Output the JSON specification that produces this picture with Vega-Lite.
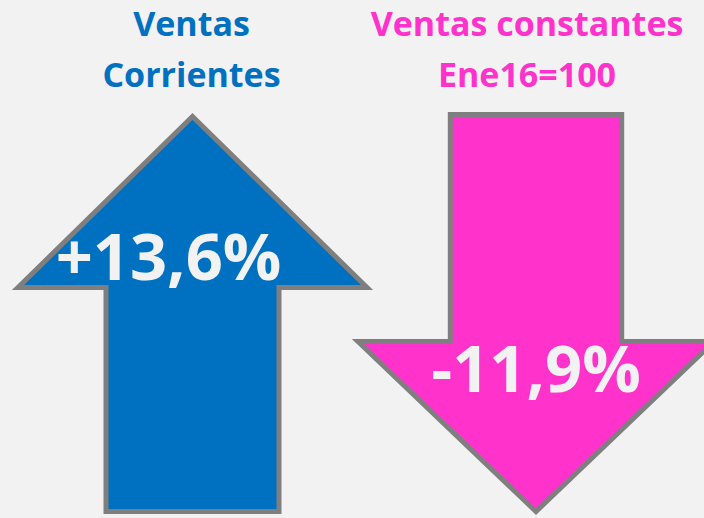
{
  "$schema": "https://vega.github.io/schema/vega-lite/v6.json",
  "width": 704,
  "height": 518,
  "autosize": {"type": "fit", "contains": "padding"},
  "padding": 0,
  "background": "#f2f2f2",
  "config": {
    "view": {"stroke": null},
    "text": {"font": "Open Sans", "fontWeight": "bold", "align": "center", "baseline": "alphabetic"}
  },
  "data": {
    "values": [
      {"serie": "Ventas Corrientes", "titulo": "Ventas\nCorrientes", "variacion": 13.6, "etiqueta": "+13,6%", "direccion": "sube"},
      {"serie": "Ventas constantes Ene16=100", "titulo": "Ventas constantes\nEne16=100", "variacion": -11.9, "etiqueta": "-11,9%", "direccion": "baja"}
    ]
  },
  "encoding": {
    "x": {
      "field": "serie",
      "type": "nominal",
      "sort": null,
      "scale": {"type": "point", "range": [192.5, 536], "padding": 0},
      "axis": null
    }
  },
  "layer": [
    {
      "mark": {"type": "point", "filled": true, "size": 40000, "stroke": "#7f7f7f", "strokeWidth": 5, "opacity": 1, "fillOpacity": 1, "strokeOpacity": 1, "strokeJoin": "miter"},
      "encoding": {
        "shape": {
          "field": "direccion",
          "type": "nominal",
          "scale": {
            "domain": ["sube", "baja"],
            "range": [
              "M 0 -1.39 L 1.745 0.32 L 0.865 0.32 L 0.865 2.56 L -0.865 2.56 L -0.865 0.32 L -1.745 0.32 Z",
              "M -0.857 -1.41 L 0.857 -1.41 L 0.857 0.86 L 1.78 0.86 L 0 2.56 L -1.78 0.86 L -0.857 0.86 Z"
            ]
          },
          "legend": null
        },
        "fill": {
          "field": "direccion",
          "type": "nominal",
          "scale": {"domain": ["sube", "baja"], "range": ["#0070c0", "#ff33cc"]},
          "legend": null
        }
      }
    },
    {
      "transform": [{"filter": "datum.direccion === 'sube'"}],
      "mark": {"type": "text", "fontSize": 65, "color": "#f2f2f2", "dx": -24, "dy": 24},
      "encoding": {"text": {"field": "etiqueta", "type": "nominal"}}
    },
    {
      "transform": [{"filter": "datum.direccion === 'baja'"}],
      "mark": {"type": "text", "fontSize": 65, "color": "#f2f2f2", "dx": 0, "dy": 136},
      "encoding": {"text": {"field": "etiqueta", "type": "nominal"}}
    },
    {
      "transform": [{"filter": "datum.direccion === 'sube'"}],
      "mark": {"type": "text", "fontSize": 34, "color": "#0070c0", "dx": -1, "dy": -220, "lineBreak": "\n", "lineHeight": 51},
      "encoding": {"text": {"field": "titulo", "type": "nominal"}}
    },
    {
      "transform": [{"filter": "datum.direccion === 'baja'"}],
      "mark": {"type": "text", "fontSize": 34, "color": "#ff33cc", "dx": -9, "dy": -220, "lineBreak": "\n", "lineHeight": 51},
      "encoding": {"text": {"field": "titulo", "type": "nominal"}}
    }
  ]
}
